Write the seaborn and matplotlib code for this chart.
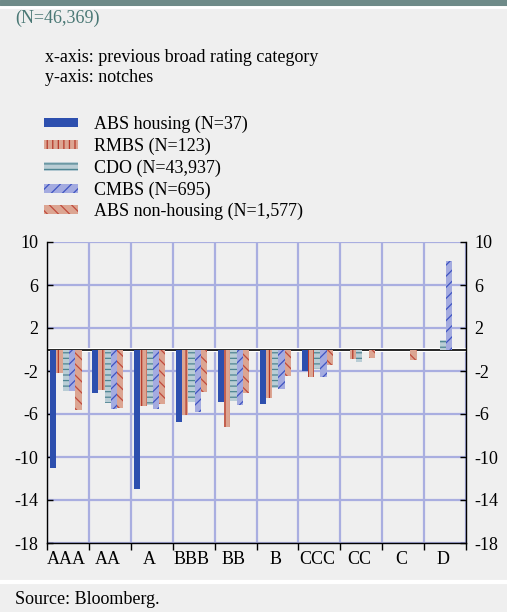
import matplotlib
matplotlib.use("Agg")
import matplotlib.pyplot as plt
import numpy as np
import pandas as pd
import seaborn as sns

# previous broad rating category
categories = ["AAA", "AA", "A", "BBB", "BB", "B", "CCC", "CC", "C", "D"]
series = [
    "ABS housing (N=37)",
    "RMBS (N=123)",
    "CDO (N=43,937)",
    "CMBS (N=695)",
    "ABS non-housing (N=1,577)",
]
# notches (nan = no bar)
abs_housing = [-11.0, -4.0, -13.0, -6.7, -4.9, -5.1, -2.0, np.nan, np.nan, np.nan]
rmbs = [-2.2, -3.75, -5.3, -6.1, -7.2, -4.5, -2.6, -0.9, np.nan, np.nan]
cdo = [-3.9, -5.0, -5.2, -4.9, -4.8, -3.6, -1.8, -1.2, np.nan, 0.9]
cmbs = [-3.85, -5.5, -5.5, -5.8, -5.2, -3.7, -2.55, np.nan, np.nan, 8.2]
abs_non_housing = [-5.6, -5.45, -5.1, -3.95, -4.0, -2.45, -1.4, -0.8, -1.0, np.nan]

yticks = [10, 6, 2, -2, -6, -10, -14, -18]

face_colors = ["#2d4fae", "#dca592", "#b9cdd5", "#a4abe0", "#dca592"]
hatch_colors = ["#2d4fae", "#b5392a", "#4f8592", "#3f54c2", "#c04a3c"]
hatches = [None, "|||", "---", "///", "\\\\\\"]

BG = "#efefef"
GRID = "#a9aee0"

df = pd.DataFrame({
    "category": np.tile(categories, len(series)),
    "series": np.repeat(series, len(categories)),
    "value": np.concatenate([abs_housing, rmbs, cdo, cmbs, abs_non_housing]),
})

plt.rcParams["font.family"] = ["Liberation Serif", "DejaVu Serif"]
plt.rcParams["hatch.linewidth"] = 0.9
plt.rcParams["axes.unicode_minus"] = False

fig = plt.figure(figsize=(5.07, 6.12), dpi=100, facecolor=BG)
ax = fig.add_axes([47 / 507, 1 - 543 / 612, 419 / 507, 301 / 612])
ax.set_facecolor(BG)

sns.barplot(data=df, x="category", y="value", hue="series", order=categories,
            hue_order=series, palette=face_colors, width=0.75, errorbar=None,
            legend=False, ax=ax, zorder=3)

for cont, fc, hc, h in zip(ax.containers, face_colors, hatch_colors, hatches):
    for p in cont:
        p.set_facecolor(fc)
        p.set_edgecolor(hc)
        p.set_linewidth(0)
        if h:
            p.set_hatch(h)

ax.axhline(0, color="white", lw=3, zorder=2)
ax.axhline(0, color="black", lw=1.2, zorder=2.5)

ax.set_xlim(-0.45, len(categories) - 0.45)
ax.set_ylim(-18, 10)
ax.set_yticks(yticks)
ax.set_xticks(np.arange(len(categories)))
ax.set_xticklabels(categories)
ax.set_xticks(np.arange(len(categories) + 1) - 0.45, minor=True)
ax.set_xlabel("")
ax.set_ylabel("")

ax.grid(axis="y", which="major", color=GRID, lw=1.6, zorder=1)
ax.grid(axis="x", which="minor", color=GRID, lw=1.6, zorder=1)
ax.grid(axis="x", which="major", visible=False)
ax.set_axisbelow(True)

ax.tick_params(axis="x", which="major", length=0, labelsize=13, pad=6)
ax.tick_params(axis="x", which="minor", length=5, width=1, direction="out", color="black")
ax.tick_params(axis="y", which="major", left=True, right=True, labelleft=True,
               labelright=True, direction="in", length=4, width=1, labelsize=13, pad=6)

for side in ["left", "right", "bottom"]:
    ax.spines[side].set_color("black")
    ax.spines[side].set_linewidth(1)
ax.spines["top"].set_visible(False)

# header band and separators
fig.patches.append(plt.Rectangle((0, 1 - 5 / 612), 1, 5 / 612, transform=fig.transFigure,
                                 color="#6e8a88", zorder=0))
fig.lines.append(plt.Line2D([0, 1], [1 - 6.5 / 612] * 2, transform=fig.transFigure,
                            color="white", lw=2))
fig.lines.append(plt.Line2D([0, 1], [1 - 582 / 612] * 2, transform=fig.transFigure,
                            color="white", lw=3))

fig.text(15 / 507, 1 - 18 / 612, "(N=46,369)", color="#4a7875", fontsize=13, va="center")
fig.text(45 / 507, 1 - 57 / 612, "x-axis: previous broad rating category", fontsize=13, va="center")
fig.text(45 / 507, 1 - 78 / 612, "y-axis: notches", fontsize=13, va="center")
fig.text(15 / 507, 1 - 600 / 612, "Source: Bloomberg.", fontsize=13, va="center")

handles = [c.patches[0] for c in ax.containers]
fig.legend(handles, series, loc="upper left", bbox_to_anchor=(42 / 507, 1 - 114 / 612),
           frameon=False, fontsize=13, handlelength=1.9, handleheight=0.4,
           handletextpad=0.9, labelspacing=0.25, borderpad=0.1, borderaxespad=0)

fig.savefig("out.png", dpi=100, facecolor=BG)
